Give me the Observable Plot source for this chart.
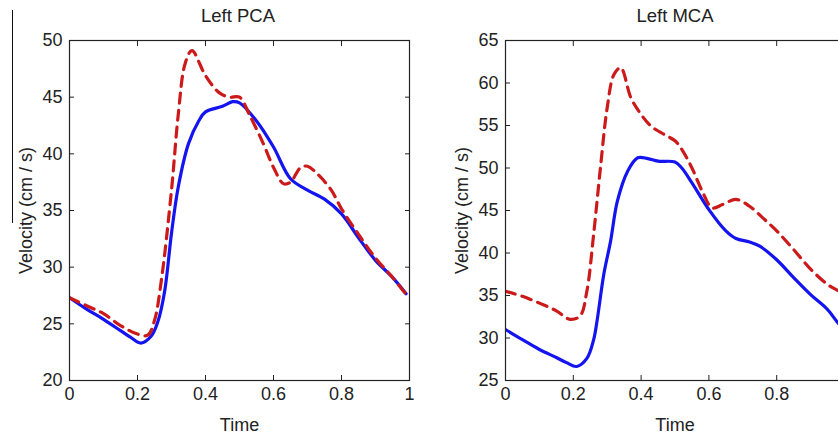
<!DOCTYPE html>
<html>
<head>
<meta charset="utf-8">
<script src="https://cdn.jsdelivr.net/npm/d3@7"></script>
<script src="https://cdn.jsdelivr.net/npm/@observablehq/plot@0.6"></script>
<style>
  body { margin: 0; background: #fff; }
  #wrap { position: relative; width: 838px; height: 434px; overflow: hidden; background: #fff; font-family: "Liberation Sans", Arial, sans-serif; }
  .panel { position: absolute; top: 0; }
  .title { position: absolute; top: 5px; font-size: 18.5px; color: #222; transform: translateX(-50%); white-space: nowrap; }
  .stray { position: absolute; left: 12px; top: 10px; width: 0; height: 213px; border-left: 1.5px solid #111; }
</style>
</head>
<body>
<div id="wrap">
  <div class="stray"></div>
</div>
<script>
// Left PCA
const pcaBlueT = [0, 0.05, 0.1, 0.15, 0.18, 0.21, 0.24, 0.26, 0.28, 0.3, 0.32, 0.35, 0.38, 0.4, 0.45, 0.48, 0.5, 0.55, 0.6, 0.65, 0.7, 0.75, 0.8, 0.85, 0.9, 0.95, 0.99];
const pcaBlueV = [27.3, 26.3, 25.4, 24.4, 23.8, 23.3, 23.9, 25.2, 27.9, 33.0, 37.1, 40.9, 42.9, 43.7, 44.2, 44.6, 44.5, 42.9, 40.6, 37.8, 36.8, 36.0, 34.7, 32.6, 30.6, 29.1, 27.65];
const pcaRedT = [0, 0.05, 0.1, 0.15, 0.2, 0.23, 0.25, 0.27, 0.3, 0.32, 0.34, 0.36, 0.4, 0.44, 0.47, 0.5, 0.53, 0.57, 0.6, 0.63, 0.65, 0.68, 0.7, 0.73, 0.77, 0.8, 0.85, 0.9, 0.95, 0.99];
const pcaRedV = [27.3, 26.6, 25.9, 24.85, 24.1, 24.0, 25.3, 28.8, 36.8, 43.5, 47.95, 49.1, 46.9, 45.4, 45.0, 45.0, 43.4, 40.9, 38.8, 37.35, 37.5, 38.8, 38.9, 38.2, 36.8, 35.15, 32.9, 30.8, 29.1, 27.6];

// Left MCA
const mcaBlueT = [0, 0.05, 0.1, 0.15, 0.18, 0.21, 0.24, 0.26, 0.27, 0.29, 0.31, 0.33, 0.36, 0.39, 0.42, 0.45, 0.5, 0.52, 0.55, 0.6, 0.65, 0.68, 0.72, 0.75, 0.8, 0.85, 0.9, 0.95, 0.985, 1];
const mcaBlueV = [31.0, 29.8, 28.65, 27.7, 27.1, 26.65, 27.6, 29.8, 32.0, 37.5, 41.4, 46.1, 49.6, 51.2, 51.1, 50.8, 50.7, 50.0, 48.25, 45.1, 42.6, 41.7, 41.3, 40.8, 39.2, 37.1, 35.1, 33.35, 31.6, 31.2];
const mcaRedT = [0, 0.05, 0.1, 0.15, 0.19, 0.22, 0.24, 0.26, 0.28, 0.3, 0.32, 0.34, 0.37, 0.4, 0.43, 0.47, 0.5, 0.52, 0.55, 0.58, 0.61, 0.64, 0.68, 0.72, 0.76, 0.8, 0.85, 0.9, 0.95, 0.985, 1];
const mcaRedV = [35.5, 34.9, 34.1, 33.2, 32.2, 32.6, 35.5, 42.2, 50.0, 57.1, 61.0, 61.8, 58.25, 56.3, 54.9, 53.9, 53.2, 52.2, 50.0, 47.3, 45.3, 45.7, 46.3, 45.5, 44.1, 42.6, 40.4, 38.1, 36.3, 35.5, 35.2];

const pcaXTicks = [0, 0.2, 0.4, 0.6, 0.8, 1];
const mcaXTicks = [0, 0.2, 0.4, 0.6, 0.8];
const pcaYTicks = [20, 25, 30, 35, 40, 45, 50];
const mcaYTicks = [25, 30, 35, 40, 45, 50, 55, 60, 65];

const titles = ["Left PCA", "Left MCA"];
const xLabel = "Time";
const yLabel = "Velocity (cm / s)";

const BLUE = "#1414f0";
const RED = "#cc1a1a";

function zip(ts, vs) { return ts.map((t, i) => ({t, v: vs[i]})); }

function panel({blue, red, yDomain, xTicks, yTicks, width, marginLeft, marginRight}) {
  return Plot.plot({
    width, height: 434,
    marginTop: 40, marginBottom: 54, marginLeft, marginRight,
    style: {fontFamily: "Liberation Sans, Arial, sans-serif", fontSize: "18px", color: "#222", background: "transparent", overflow: "visible"},
    x: {domain: [0, 1]},
    y: {domain: yDomain},
    marks: [
      Plot.line(blue, {x: "t", y: "v", stroke: BLUE, strokeWidth: 3.2, curve: "catmull-rom", clip: true}),
      Plot.line(red, {x: "t", y: "v", stroke: RED, strokeWidth: 3.2, strokeDasharray: "10,7", curve: "catmull-rom", clip: true}),
      Plot.frame({stroke: "#222", strokeWidth: 1.2}),
      Plot.axisX({ticks: xTicks, tickSize: -5, tickPadding: 12, tickFormat: d => String(d), label: xLabel, labelAnchor: "center", labelArrow: "none", labelOffset: 50, fontSize: 18}),
      Plot.axisX({anchor: "top", ticks: xTicks, tickSize: -5, tickFormat: () => "", label: null}),
      Plot.axisY({ticks: yTicks, tickSize: -5, tickPadding: 12, tickFormat: d => String(d), label: yLabel, labelAnchor: "center", labelArrow: "none", labelOffset: 50, fontSize: 18}),
      Plot.axisY({anchor: "right", ticks: yTicks, tickSize: -5, tickFormat: () => "", label: null})
    ]
  });
}

const wrap = document.getElementById("wrap");

const p1 = panel({blue: zip(pcaBlueT, pcaBlueV), red: zip(pcaRedT, pcaRedV), yDomain: [20, 50], xTicks: pcaXTicks, yTicks: pcaYTicks, width: 420, marginLeft: 69, marginRight: 11});
p1.classList.add("panel"); p1.style.left = "0px";
wrap.appendChild(p1);

const p2 = panel({blue: zip(mcaBlueT, mcaBlueV), red: zip(mcaRedT, mcaRedV), yDomain: [25, 65], xTicks: mcaXTicks, yTicks: mcaYTicks, width: 440, marginLeft: 85, marginRight: 16});
p2.classList.add("panel"); p2.style.left = "420px";
wrap.appendChild(p2);

const centers = [238, 675];
titles.forEach((t, i) => {
  const d = document.createElement("div");
  d.className = "title";
  d.textContent = t;
  d.style.left = centers[i] + "px";
  wrap.appendChild(d);
});
</script>
</body>
</html>
